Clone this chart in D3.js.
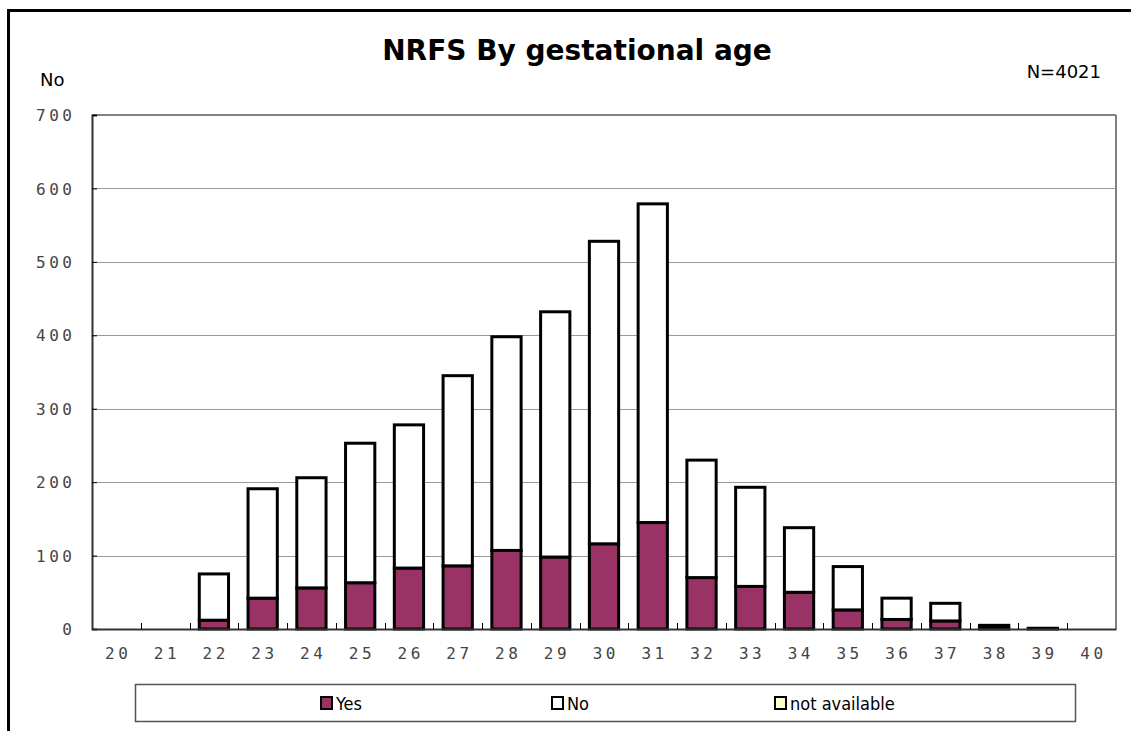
<!DOCTYPE html>
<html>
<head>
<meta charset="utf-8">
<script src="https://cdn.jsdelivr.net/npm/d3@7"></script>
<style>
  html, body { margin: 0; padding: 0; background: #fff; }
  svg { display: block; }
</style>
</head>
<body>
<svg id="chart" width="1131" height="731"></svg>
<script>
// ---- data ----
const categories = ["20","21","22","23","24","25","26","27","28","29","30","31","32","33","34","35","36","37","38","39","40"];
const yesValues  = [0, 0, 12, 42, 56, 63, 83, 86, 107, 98, 116, 145, 70, 58, 50, 26, 13, 11, 2, 0, 0];
const noValues   = [0, 0, 63, 149, 150, 190, 195, 259, 291, 334, 412, 434, 160, 135, 88, 59, 29, 24, 3, 1, 0];
const naValues   = [0, 0, 0, 0, 0, 0, 0, 0, 0, 0, 0, 0, 0, 0, 0, 0, 0, 0, 0, 0, 0];
const seriesNames = ["Yes", "No", "not available"];
const seriesColors = ["#993366", "#FFFFFF", "#FFFFCC"];
const yTicks = [0, 100, 200, 300, 400, 500, 600, 700];
const titleText = "NRFS By gestational age";
const yAxisLabel = "No";
const nLabel = "N=4021";

// ---- layout ----
const svg = d3.select("#chart");
const plot = { left: 92, right: 1116, top: 115, bottom: 629 };

const x = d3.scaleBand().domain(categories).range([plot.left, plot.right]).paddingInner(0.4).paddingOuter(0.2);
const xEdge = d3.scaleBand().domain(categories).range([plot.left, plot.right]).padding(0);
const y = d3.scaleLinear().domain([0, 700]).range([plot.bottom, plot.top]);

// outer frame (left & top visible)
svg.append("rect").attr("x", 8.5).attr("y", 10.5).attr("width", 1200).attr("height", 800)
  .attr("fill", "none").attr("stroke", "#000").attr("stroke-width", 3);

// gridlines
svg.append("g").selectAll("line").data(yTicks.filter(d => d > 0 && d < 700)).join("line")
  .attr("x1", plot.left).attr("x2", plot.right)
  .attr("y1", d => Math.round(y(d)) + 0.5).attr("y2", d => Math.round(y(d)) + 0.5)
  .attr("stroke", "#999").attr("stroke-width", 1);

// plot border top/right
svg.append("line").attr("x1", plot.left).attr("x2", plot.right).attr("y1", plot.top).attr("y2", plot.top)
  .attr("stroke", "#808080").attr("stroke-width", 2);
svg.append("line").attr("x1", plot.right).attr("x2", plot.right).attr("y1", plot.top).attr("y2", plot.bottom)
  .attr("stroke", "#808080").attr("stroke-width", 2);

// stacked bars
const rows = categories.map((c, i) => ({ cat: c, Yes: yesValues[i], No: noValues[i], "not available": naValues[i] }));
const stack = d3.stack().keys(seriesNames)(rows);
const gBars = svg.append("g");
stack.forEach((layer, si) => {
  gBars.append("g").selectAll("rect").data(layer.filter(d => d[1] - d[0] > 0)).join("rect")
    .attr("x", d => x(d.data.cat))
    .attr("width", x.bandwidth())
    .attr("y", d => y(d[1]))
    .attr("height", d => y(d[0]) - y(d[1]))
    .attr("fill", seriesColors[si])
    .attr("stroke", "#000")
    .attr("stroke-width", 3);
});

// axes
const yAxis = d3.axisLeft(y).tickValues(yTicks).tickSize(-5).tickPadding(20);
const gy = svg.append("g").attr("transform", `translate(${plot.left},0)`).call(yAxis);
gy.select(".domain").attr("stroke", "#333").attr("stroke-width", 2);
gy.selectAll(".tick line").attr("stroke", "#000").attr("stroke-width", 1);
gy.selectAll(".tick text")
  .attr("font-family", "'DejaVu Sans Mono', monospace").attr("font-size", 16)
  .attr("fill", "#444").attr("letter-spacing", "3.5px").attr("dx", "3.5px").attr("dy", "0.35em");

const xAxis = d3.axisBottom(xEdge).tickSize(0).tickPadding(19);
const gx = svg.append("g").attr("transform", `translate(0,${plot.bottom})`).call(xAxis);
gx.select(".domain").attr("stroke", "#333").attr("stroke-width", 2);
gx.selectAll(".tick text")
  .attr("font-family", "'DejaVu Sans Mono', monospace").attr("font-size", 16)
  .attr("fill", "#444").attr("letter-spacing", "3.5px").attr("dx", "1.75px");

// x ticks at category boundaries (pointing up)
svg.append("g").selectAll("line").data(categories.slice(1)).join("line")
  .attr("x1", d => Math.round(xEdge(d)) + 0.5).attr("x2", d => Math.round(xEdge(d)) + 0.5)
  .attr("y1", plot.bottom).attr("y2", plot.bottom - 6)
  .attr("stroke", "#000").attr("stroke-width", 1);

// title and labels
svg.append("text").attr("x", 577).attr("y", 60).attr("text-anchor", "middle")
  .attr("font-family", "'DejaVu Sans', sans-serif").attr("font-weight", "bold").attr("font-size", 28)
  .attr("fill", "#000").text(titleText);
svg.append("text").attr("x", 40).attr("y", 86)
  .attr("font-family", "'DejaVu Sans', sans-serif").attr("font-size", 18)
  .attr("fill", "#000").text(yAxisLabel);
svg.append("text").attr("x", 1101).attr("y", 78).attr("text-anchor", "end")
  .attr("font-family", "'DejaVu Sans', sans-serif").attr("font-size", 18)
  .attr("fill", "#000").text(nLabel);

// legend
const leg = svg.append("g");
leg.append("rect").attr("x", 135.5).attr("y", 684.5).attr("width", 940).attr("height", 37)
  .attr("fill", "#fff").attr("stroke", "#555").attr("stroke-width", 1.5);
const legX = [321, 552, 775];
seriesNames.forEach((name, i) => {
  leg.append("rect").attr("x", legX[i]).attr("y", 697).attr("width", 11).attr("height", 12)
    .attr("fill", seriesColors[i]).attr("stroke", "#000").attr("stroke-width", 2);
  leg.append("text").attr("x", legX[i] + 15).attr("y", 710)
    .attr("font-family", "'DejaVu Sans Condensed', 'DejaVu Sans', sans-serif").attr("font-size", 18)
    .attr("font-stretch", "condensed")
    .attr("fill", "#000").text(name);
});
</script>
</body>
</html>
